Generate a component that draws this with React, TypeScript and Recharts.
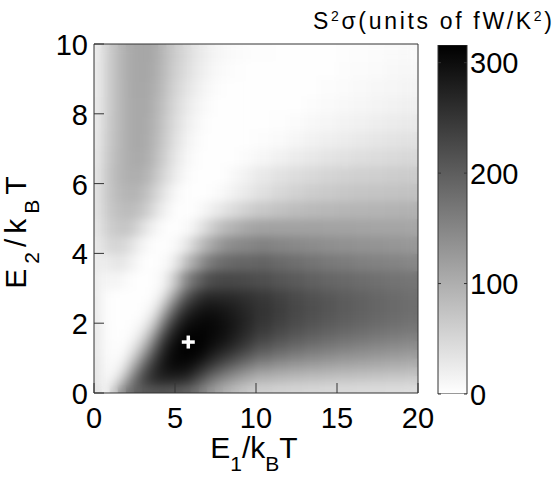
import React from 'react';
import { ComposedChart, XAxis, YAxis, ReferenceArea, Scatter, Bar } from 'recharts';

// ---------- data ----------
const E1_EDGES = [0, 0.5, 1, 1.5, 2, 2.5, 3, 3.5, 4, 4.5, 5, 5.5, 6, 6.5, 7, 7.5, 8, 8.5, 9, 9.5, 10, 11, 12, 13, 14, 15, 16, 17, 18, 19, 20];
const E2_EDGES = [0, 0.25, 0.5, 0.75, 1, 1.25, 1.5, 1.75, 2, 2.25, 2.5, 2.75, 3, 3.5, 4, 4.5, 5, 5.5, 6, 6.5, 7, 7.5, 8, 8.5, 9, 9.5, 10];

// S^2 sigma (fW/K^2), rows from E2 = 0 (bottom) to E2 = 10 (top), columns follow E1_EDGES cells
const S2SIGMA: number[][] = [
  [33, 15, 62, 130, 177, 198, 207, 211, 212, 209, 204, 197, 180, 155, 130, 112, 95, 83, 73, 64, 58, 55, 52, 50, 47, 46, 45, 43, 42, 41],
  [31, 10, 25, 74, 142, 198, 235, 256, 264, 264, 260, 252, 227, 198, 170, 149, 133, 118, 105, 95, 87, 81, 76, 72, 69, 67, 64, 62, 61, 59],
  [30, 9, 10, 37, 99, 167, 223, 260, 281, 291, 291, 286, 266, 242, 214, 192, 173, 157, 142, 130, 118, 109, 103, 98, 94, 90, 88, 85, 83, 81],
  [28, 7, 6, 16, 62, 124, 192, 244, 281, 301, 306, 305, 294, 276, 254, 235, 217, 199, 183, 170, 155, 142, 134, 128, 121, 116, 113, 109, 105, 103],
  [27, 6, 4, 6, 33, 83, 149, 217, 269, 299, 310, 312, 310, 301, 281, 266, 252, 235, 219, 204, 188, 173, 162, 154, 146, 140, 135, 130, 126, 123],
  [26, 6, 2, 2, 16, 50, 105, 180, 248, 289, 307, 315, 313, 310, 299, 289, 276, 261, 247, 232, 214, 198, 187, 177, 169, 161, 155, 150, 145, 141],
  [26, 5, 1, 1, 6, 25, 68, 136, 217, 269, 297, 311, 312, 311, 305, 299, 289, 276, 263, 249, 233, 217, 204, 195, 186, 178, 172, 166, 161, 157],
  [25, 5, 1, 1, 2, 11, 37, 93, 173, 242, 281, 301, 307, 309, 306, 301, 294, 282, 270, 259, 244, 229, 217, 207, 198, 191, 185, 178, 173, 169],
  [24, 4, 1, 1, 1, 4, 19, 56, 130, 204, 256, 285, 297, 302, 304, 299, 291, 282, 273, 263, 250, 237, 224, 214, 206, 198, 192, 186, 181, 176],
  [22, 4, 1, 1, 1, 1, 7, 28, 87, 161, 223, 260, 281, 291, 294, 291, 285, 278, 269, 261, 252, 239, 227, 218, 209, 202, 196, 190, 185, 180],
  [22, 4, 1, 1, 1, 1, 2, 12, 50, 115, 182, 229, 256, 273, 279, 276, 273, 269, 261, 256, 249, 237, 225, 217, 209, 202, 196, 190, 185, 180],
  [21, 5, 2, 1, 1, 1, 1, 5, 25, 74, 136, 192, 227, 248, 256, 256, 256, 254, 250, 248, 242, 230, 221, 212, 204, 198, 192, 187, 182, 177],
  [21, 12, 12, 10, 4, 1, 1, 2, 11, 43, 93, 149, 180, 205, 220, 226, 227, 226, 224, 222, 218, 210, 203, 196, 190, 186, 181, 177, 174, 171],
  [25, 22, 28, 30, 20, 9, 1, 1, 4, 15, 41, 81, 112, 143, 165, 177, 184, 187, 189, 190, 192, 185, 178, 172, 166, 162, 158, 155, 152, 149],
  [28, 43, 51, 50, 38, 21, 9, 2, 1, 4, 12, 31, 58, 85, 108, 125, 137, 144, 147, 150, 155, 150, 146, 142, 139, 136, 134, 132, 130, 128],
  [33, 53, 64, 71, 68, 51, 31, 15, 5, 1, 2, 6, 19, 38, 58, 75, 88, 96, 104, 110, 114, 115, 115, 115, 114, 114, 113, 112, 111, 110],
  [36, 59, 73, 81, 83, 77, 62, 41, 21, 9, 1, 1, 2, 10, 19, 28, 37, 46, 53, 61, 68, 76, 82, 85, 88, 90, 92, 93, 94, 95],
  [36, 62, 78, 88, 93, 90, 78, 58, 36, 19, 6, 1, 1, 1, 2, 6, 11, 17, 24, 30, 38, 48, 56, 62, 66, 69, 72, 73, 74, 76],
  [33, 62, 81, 93, 99, 100, 93, 74, 53, 33, 17, 6, 1, 1, 1, 1, 4, 9, 14, 20, 27, 36, 42, 47, 52, 56, 58, 59, 62, 63],
  [31, 59, 78, 93, 102, 105, 100, 84, 63, 42, 24, 11, 4, 1, 1, 1, 1, 1, 4, 6, 11, 17, 24, 28, 33, 37, 41, 43, 46, 48],
  [28, 57, 76, 92, 103, 108, 103, 89, 69, 48, 31, 16, 7, 2, 1, 1, 1, 1, 1, 1, 4, 6, 11, 16, 20, 24, 27, 31, 33, 36],
  [27, 55, 74, 90, 103, 108, 104, 93, 73, 53, 36, 21, 11, 5, 1, 1, 1, 1, 1, 1, 1, 2, 5, 9, 11, 15, 17, 21, 24, 26],
  [26, 52, 73, 90, 103, 108, 107, 95, 78, 58, 41, 27, 16, 9, 4, 1, 1, 1, 1, 1, 1, 1, 1, 4, 6, 9, 11, 14, 16, 19],
  [25, 51, 73, 90, 104, 109, 108, 99, 83, 63, 47, 33, 22, 14, 7, 4, 1, 1, 1, 1, 1, 1, 1, 1, 4, 5, 7, 10, 11, 14],
  [25, 51, 73, 92, 104, 109, 109, 103, 87, 68, 53, 41, 28, 20, 12, 7, 5, 2, 1, 1, 1, 1, 1, 1, 1, 4, 5, 6, 9, 10],
  [24, 51, 73, 92, 104, 109, 110, 105, 89, 72, 57, 45, 32, 24, 16, 11, 7, 5, 4, 2, 2, 1, 1, 1, 1, 2, 4, 5, 6, 7],
];

const X_TICKS = [0, 5, 10, 15, 20];
const Y_TICKS = [0, 2, 4, 6, 8, 10];
const CB_TICKS = [0, 100, 200, 300];
const CB_MAX = 316;
const CB_DATA = [{ name: 'S2sigma', top: CB_MAX }];
const MAX_POINT = [{ e1: 5.82, e2: 1.46 }];

// ---------- styling ----------
const FONT = '"Liberation Sans", Arial, Helvetica, sans-serif';
const AXIS_COLOR = '#333';
const CB_WIDTH = 29;

const shade = (v: number) => {
  const t = Math.min(Math.max(v / CB_MAX, 0), 1);
  const g = Math.round(255 * (1 - t));
  return `rgb(${g},${g},${g})`;
};

const CELLS: { x1: number; x2: number; y1: number; y2: number; v: number }[] = [];
S2SIGMA.forEach((row, r) => {
  row.forEach((v, c) => {
    if (E1_EDGES[c + 1] === undefined || E2_EDGES[r + 1] === undefined) return;
    CELLS.push({ x1: E1_EDGES[c], x2: E1_EDGES[c + 1], y1: E2_EDGES[r], y2: E2_EDGES[r + 1], v });
  });
});

const XTick = (props: any) => {
  const { x, y, payload } = props;
  return (
    <g>
      <line x1={x} x2={x} y1={y} y2={y - 10} stroke={AXIS_COLOR} strokeWidth={1} />
      <text x={x} y={y + 35} textAnchor="middle" fontSize={29} fontFamily={FONT} fill="#000">
        {payload.value}
      </text>
    </g>
  );
};

const YTick = (props: any) => {
  const { x, y, payload } = props;
  return (
    <g>
      <line x1={x} x2={x + 10} y1={y} y2={y} stroke={AXIS_COLOR} strokeWidth={1} />
      <text x={x - 6} y={y + 11} textAnchor="end" fontSize={29} fontFamily={FONT} fill="#000">
        {payload.value}
      </text>
    </g>
  );
};

const CbTick = (props: any) => {
  const { x, y, payload } = props;
  return (
    <g>
      <line x1={x - 3} x2={x} y1={y} y2={y} stroke={AXIS_COLOR} strokeWidth={1} />
      <line x1={x - CB_WIDTH} x2={x - CB_WIDTH + 3} y1={y} y2={y} stroke={AXIS_COLOR} strokeWidth={1} />
      <text x={x + 3} y={y + 10.5} textAnchor="start" fontSize={29} fontFamily={FONT} fill="#000">
        {payload.value}
      </text>
    </g>
  );
};

const XLabel = (props: any) => {
  const vb = props.viewBox || { x: 0, y: 0, width: 0, height: 0 };
  return (
    <text x={vb.x + vb.width / 2 - 2} y={vb.y + 65} textAnchor="middle" fontSize={30} fontFamily={FONT} fill="#000">
      E<tspan fontSize={21} dy={13}>1</tspan>
      <tspan dy={-13}>/k</tspan>
      <tspan fontSize={21} dy={13}>B</tspan>
      <tspan dy={-13}>T</tspan>
    </text>
  );
};

const YLabel = (props: any) => {
  const vb = props.viewBox || { x: 0, y: 0, width: 0, height: 0 };
  const cx = vb.x - 8;
  const cy = vb.y + vb.height / 2 + 11.5;
  return (
    <text
      transform={`translate(${cx},${cy}) rotate(-90)`}
      textAnchor="middle"
      fontSize={30}
      fontFamily={FONT}
      fill="#000"
      letterSpacing={5}
    >
      E<tspan fontSize={21} dy={13}>2</tspan>
      <tspan dy={-13}>/k</tspan>
      <tspan fontSize={21} dy={13}>B</tspan>
      <tspan dy={-13}>T</tspan>
    </text>
  );
};

const PlusShape = (props: any) => {
  const { cx, cy } = props;
  if (cx == null || cy == null) return null;
  return (
    <g>
      <line x1={cx - 6.5} x2={cx + 6.5} y1={cy} y2={cy} stroke="#fff" strokeWidth={3.5} />
      <line x1={cx} x2={cx} y1={cy - 6.5} y2={cy + 6.5} stroke="#fff" strokeWidth={3.5} />
    </g>
  );
};

const EmptyShape = () => <g />;

const HeatCells = () => (
  <ComposedChart width={324} height={349} margin={{ top: 0, right: 0, bottom: 0, left: 0 }}>
    <XAxis type="number" dataKey="e1" domain={[0, 20]} hide allowDataOverflow />
    <YAxis type="number" dataKey="e2" domain={[0, 10]} hide allowDataOverflow />
    <Scatter data={MAX_POINT} dataKey="e2" shape={EmptyShape} isAnimationActive={false} />
    {CELLS.map((c, i) => (
      <ReferenceArea
        key={i}
        x1={c.x1}
        x2={c.x2}
        y1={c.y1}
        y2={c.y2}
        fill={shade(c.v)}
        fillOpacity={1}
        stroke={shade(c.v)}
        strokeWidth={1}
        ifOverflow="visible"
      />
    ))}
  </ComposedChart>
);

export default function App() {
  return (
    <div style={{ position: 'absolute', left: 0, top: 0, width: 556, height: 477, background: '#fff', overflow: 'hidden' }}>
      {/* heat map cells: sharp base layer */}
      <div style={{ position: 'absolute', left: 94, top: 44, width: 324, height: 349 }}>
        <HeatCells />
      </div>
      {/* smoothed copy on top, clipped to the plot area */}
      <div style={{ position: 'absolute', left: 94, top: 44, width: 324, height: 349, overflow: 'hidden' }}>
        <div style={{ width: 324, height: 349, filter: 'blur(4.5px)' }}>
          <HeatCells />
        </div>
      </div>

      {/* axes, frame, marker */}
      <div style={{ position: 'absolute', left: 0, top: 0 }}>
        <ComposedChart width={556} height={477} margin={{ top: 44, right: 138, bottom: 44, left: 34 }}>
          <ReferenceArea x1={0} x2={20} y1={0} y2={10} fill="none" fillOpacity={0} stroke={AXIS_COLOR} strokeWidth={1} ifOverflow="visible" />
          <Scatter data={MAX_POINT} dataKey="e2" shape={PlusShape} isAnimationActive={false} />
          <XAxis
            type="number"
            dataKey="e1"
            domain={[0, 20]}
            ticks={X_TICKS}
            interval={0}
            height={40}
            axisLine={false}
            tickLine={false}
            tickSize={0}
            tickMargin={0}
            tick={XTick}
            allowDataOverflow
            label={{ value: 'E1/kBT', content: XLabel }}
          />
          <YAxis
            type="number"
            dataKey="e2"
            domain={[0, 10]}
            ticks={Y_TICKS}
            interval={0}
            width={60}
            axisLine={false}
            tickLine={false}
            tickSize={0}
            tickMargin={0}
            tick={YTick}
            allowDataOverflow
            label={{ value: 'E2/kBT', content: YLabel }}
          />
        </ComposedChart>
      </div>

      {/* colour bar */}
      <div style={{ position: 'absolute', left: 300, top: 0 }}>
        <ComposedChart
          width={256}
          height={477}
          data={CB_DATA}
          margin={{ top: 45, right: 29, bottom: 83, left: 138 }}
          barCategoryGap={0}
          barGap={0}
        >
          <defs>
            <linearGradient id="cbGrad" x1="0" y1="0" x2="0" y2="1">
              <stop offset="0" stopColor="#000" />
              <stop offset="1" stopColor="#fff" />
            </linearGradient>
          </defs>
          <XAxis dataKey="name" type="category" hide />
          <Bar dataKey="top" fill="url(#cbGrad)" stroke={AXIS_COLOR} strokeWidth={1} isAnimationActive={false} />
          <YAxis
            orientation="right"
            type="number"
            domain={[0, CB_MAX]}
            ticks={CB_TICKS}
            interval={0}
            width={60}
            axisLine={false}
            tickLine={false}
            tickSize={0}
            tickMargin={0}
            tick={CbTick}
            allowDataOverflow
          />
          <text x={13} y={29} fontSize={23} fontFamily={FONT} fill="#000" textLength={239} lengthAdjust="spacing">
            S<tspan fontSize={14} dy={-8}>2</tspan>
            <tspan dy={8}>σ(units of fW/K</tspan>
            <tspan fontSize={14} dy={-8}>2</tspan>
            <tspan dy={8}>)</tspan>
          </text>
        </ComposedChart>
      </div>
    </div>
  );
}
